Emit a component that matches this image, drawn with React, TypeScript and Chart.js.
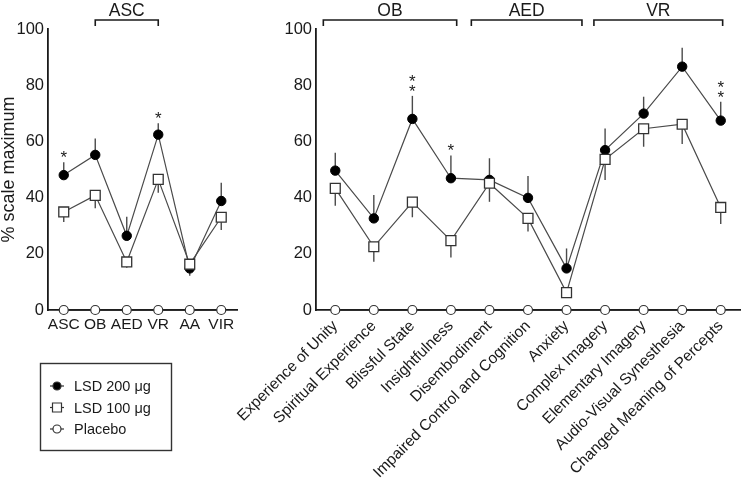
import React, { useEffect, useRef } from 'react';
import { Chart, registerables } from 'chart.js';

Chart.register(...registerables);

const FONT = '"Liberation Sans", Arial, Helvetica, sans-serif';
const INK = '#1a1a1a';
const LINE = '#4a4a4a';

// ---- Left panel: global scales ----
const ascLabels = ['ASC', 'OB', 'AED', 'VR', 'AA', 'VIR'];
const ascLsd200 = [48.0, 55.2, 26.4, 62.4, 14.8, 38.8];
const ascLsd200Sem = [4.6, 5.8, 6.8, 4.1, -2.6, 6.5];
const ascLsd100 = [34.9, 40.8, 17.1, 46.5, 16.3, 33.0];
const ascLsd100Sem = [-3.6, -4.6, -2.1, -4.8, 0, -4.5];
const ascPlacebo = [0, 0, 0, 0, 0, 0];
const ascStars = ['*', '', '', '*', '', ''];
const ascGroups = [{ label: 'ASC', from: 1, to: 3 }];

// ---- Right panel: dimensions ----
const dimLabels = [
  'Experience of Unity',
  'Spiritual Experience',
  'Blissful State',
  'Insightfulness',
  'Disembodiment',
  'Impaired Control and Cognition',
  'Anxiety',
  'Complex Imagery',
  'Elementary Imagery',
  'Audio-Visual Synesthesia',
  'Changed Meaning of Percepts',
];
const dimLsd200 = [49.6, 32.6, 68.0, 46.9, 46.3, 39.9, 14.8, 56.9, 69.9, 86.6, 67.4];
const dimLsd200Sem = [6.4, 8.3, 8.2, 8.1, 7.7, 7.8, 7.1, 7.7, 6.0, 6.7, 6.7];
const dimLsd100 = [43.3, 22.5, 38.4, 24.7, 45.1, 32.6, 6.2, 53.6, 64.5, 66.1, 36.5];
const dimLsd100Sem = [-6.2, -5.3, -5.4, -6.0, -6.6, -4.7, -0.8, -7.3, -6.4, -7.0, -5.9];
const dimPlacebo = [0, 0, 0, 0, 0, 0, 0, 0, 0, 0, 0];
const dimStars = ['', '', '**', '*', '', '', '', '', '', '', '**'];
const dimGroups = [
  { label: 'OB', from: -0.31, to: 3.15 },
  { label: 'AED', from: 3.53, to: 6.4 },
  { label: 'VR', from: 6.71, to: 10.05 },
];

const seriesNames = ['LSD 200 \u03bcg', 'LSD 100 \u03bcg', 'Placebo'];
const yTitle = '% scale maximum';

const errorBars = {
  id: 'errorBars',
  beforeDatasetsDraw(chart: any) {
    const { ctx } = chart;
    const x = chart.scales.x;
    const y = chart.scales.y;
    ctx.save();
    ctx.strokeStyle = LINE;
    ctx.lineWidth = 1.4;
    chart.data.datasets.forEach((ds: any) => {
      const sem = ds.sem as number[] | undefined;
      if (!sem) return;
      ds.data.forEach((v: number, i: number) => {
        if (!sem[i]) return;
        const px = x.getPixelForValue(i);
        ctx.beginPath();
        ctx.moveTo(px, y.getPixelForValue(v));
        ctx.lineTo(px, y.getPixelForValue(v + sem[i]));
        ctx.stroke();
      });
    });
    ctx.restore();
  },
};

const stars = {
  id: 'stars',
  afterDatasetsDraw(chart: any, _a: any, opts: any) {
    const marks: string[] = opts.marks || [];
    const { ctx } = chart;
    const x = chart.scales.x;
    const y = chart.scales.y;
    const ds: any = chart.data.datasets[0];
    ctx.save();
    ctx.fillStyle = INK;
    ctx.font = `17px ${FONT}`;
    ctx.textAlign = 'center';
    ctx.textBaseline = 'alphabetic';
    marks.forEach((m, i) => {
      if (!m) return;
      const top = y.getPixelForValue(ds.data[i] + Math.max(ds.sem[i], 0));
      const px = x.getPixelForValue(i);
      for (let k = 0; k < m.length; k++) {
        ctx.fillText('*', px, top + 1 - k * 10);
      }
    });
    ctx.restore();
  },
};

const brackets = {
  id: 'brackets',
  afterDraw(chart: any, _a: any, opts: any) {
    const groups = opts.groups || [];
    const { ctx } = chart;
    const x = chart.scales.x;
    ctx.save();
    ctx.strokeStyle = INK;
    ctx.lineWidth = 1.6;
    ctx.fillStyle = INK;
    ctx.font = `17.5px ${FONT}`;
    ctx.textAlign = 'center';
    ctx.textBaseline = 'alphabetic';
    groups.forEach((g: any) => {
      const a = x.getPixelForValue(g.from);
      const b = x.getPixelForValue(g.to);
      ctx.beginPath();
      ctx.moveTo(a, 26);
      ctx.lineTo(a, 20);
      ctx.lineTo(b, 20);
      ctx.lineTo(b, 26);
      ctx.stroke();
      ctx.fillText(g.label, (a + b) / 2, 16);
    });
    ctx.restore();
  },
};

const boxLegend = {
  id: 'boxLegend',
  afterDraw(chart: any) {
    const { ctx } = chart;
    ctx.save();
    ctx.strokeStyle = '#333';
    ctx.lineWidth = 1.4;
    ctx.strokeRect(40.5, 363.5, 131, 87);
    const rows = [386, 407.5, 429];
    chart.data.datasets.forEach((ds: any, i: number) => {
      const cy = rows[i];
      ctx.strokeStyle = '#333';
      ctx.lineWidth = 1.2;
      ctx.beginPath();
      ctx.moveTo(50, cy);
      ctx.lineTo(64, cy);
      ctx.stroke();
      ctx.beginPath();
      if (ds.pointStyle === 'rect') {
        ctx.rect(52.5, cy - 4.5, 9, 9);
      } else {
        ctx.arc(57, cy, 4, 0, Math.PI * 2);
      }
      ctx.fillStyle = ds.pointBackgroundColor;
      ctx.fill();
      ctx.stroke();
      ctx.fillStyle = INK;
      ctx.font = `14.5px ${FONT}`;
      ctx.textAlign = 'left';
      ctx.textBaseline = 'middle';
      ctx.fillText(ds.label, 74, cy + 1);
    });
    ctx.restore();
  },
};

function buildConfig(p: any): any {
  return {
    type: 'line',
    data: {
      labels: p.labels,
      datasets: [
        {
          label: seriesNames[0],
          data: p.d200,
          sem: p.s200,
          borderColor: LINE,
          borderWidth: 1.2,
          pointStyle: 'circle',
          pointRadius: 4.7,
          pointBackgroundColor: '#000',
          pointBorderColor: '#000',
          pointBorderWidth: 1,
          order: 3,
          clip: false,
        },
        {
          label: seriesNames[1],
          data: p.d100,
          sem: p.s100,
          borderColor: LINE,
          borderWidth: 1.2,
          pointStyle: 'rect',
          pointRadius: 7,
          pointBackgroundColor: '#fff',
          pointBorderColor: '#333',
          pointBorderWidth: 1.3,
          order: 2,
          clip: false,
        },
        {
          label: seriesNames[2],
          data: p.dp,
          borderColor: '#222',
          borderWidth: 1.5,
          pointStyle: 'circle',
          pointRadius: 4.5,
          pointBackgroundColor: '#fff',
          pointBorderColor: '#333',
          pointBorderWidth: 1.2,
          order: 1,
          clip: false,
        },
      ],
    },
    options: {
      responsive: false,
      animation: false,
      events: [],
      layout: { autoPadding: false, padding: { top: 29, right: p.rightPad, left: 0, bottom: 0 } },
      plugins: {
        legend: { display: false },
        tooltip: { enabled: false },
        stars: { marks: p.stars },
        brackets: { groups: p.groups },
      },
      scales: {
        x: {
          type: 'category',
          offset: true,
          grid: { display: false, drawTicks: false },
          border: { display: true, color: INK, width: 1.8 },
          ticks: {
            autoSkip: false,
            maxRotation: p.rotation,
            minRotation: p.rotation,
            padding: p.xPad,
            color: INK,
            font: { family: FONT, size: p.xFont },
          },
          afterFit: (s: any) => {
            s.height = 171;
            s.paddingLeft = 0;
            s.paddingRight = 0;
          },
        },
        y: {
          min: 0,
          max: 100,
          grid: { display: false, drawTicks: false },
          border: { display: true, color: INK, width: 1.8 },
          ticks: {
            stepSize: 20,
            padding: 4,
            color: INK,
            font: { family: FONT, size: 16.5 },
          },
          title: {
            display: !!p.title,
            text: p.title || '',
            color: INK,
            font: { family: FONT, size: 18, lineHeight: 1 },
            padding: { top: 0, bottom: 0 },
          },
          afterFit: (s: any) => {
            s.width = p.yWidth;
            s.paddingTop = 0;
            s.paddingBottom = 0;
          },
        },
      },
    },
    plugins: p.plugins,
  };
}

function Panel({ left, width, config }: { left: number; width: number; config: () => any }) {
  const ref = useRef<HTMLCanvasElement>(null);
  useEffect(() => {
    const chart = new Chart(ref.current as HTMLCanvasElement, config());
    return () => chart.destroy();
  }, []);
  return (
    <canvas
      ref={ref}
      width={width}
      height={481}
      style={{ position: 'absolute', left, top: 0, width, height: 481 }}
    />
  );
}

export default function App() {
  return (
    <div style={{ position: 'absolute', left: 0, top: 0, width: 742, height: 481, background: '#fff', overflow: 'hidden' }}>
      <Panel
        left={0}
        width={245}
        config={() =>
          buildConfig({
            labels: ascLabels,
            d200: ascLsd200,
            s200: ascLsd200Sem,
            d100: ascLsd100,
            s100: ascLsd100Sem,
            dp: ascPlacebo,
            stars: ascStars,
            groups: ascGroups,
            yWidth: 48,
            rightPad: 8,
            rotation: 0,
            xFont: 15.5,
            xPad: 5,
            title: yTitle,
            plugins: [errorBars, stars, brackets, boxLegend],
          })
        }
      />
      <Panel
        left={190}
        width={552}
        config={() =>
          buildConfig({
            labels: dimLabels,
            d200: dimLsd200,
            s200: dimLsd200Sem,
            d100: dimLsd100,
            s100: dimLsd100Sem,
            dp: dimPlacebo,
            stars: dimStars,
            groups: dimGroups,
            yWidth: 126,
            rightPad: 2,
            rotation: 45,
            xFont: 15.5,
            xPad: 7,
            title: '',
            plugins: [errorBars, stars, brackets],
          })
        }
      />
    </div>
  );
}
